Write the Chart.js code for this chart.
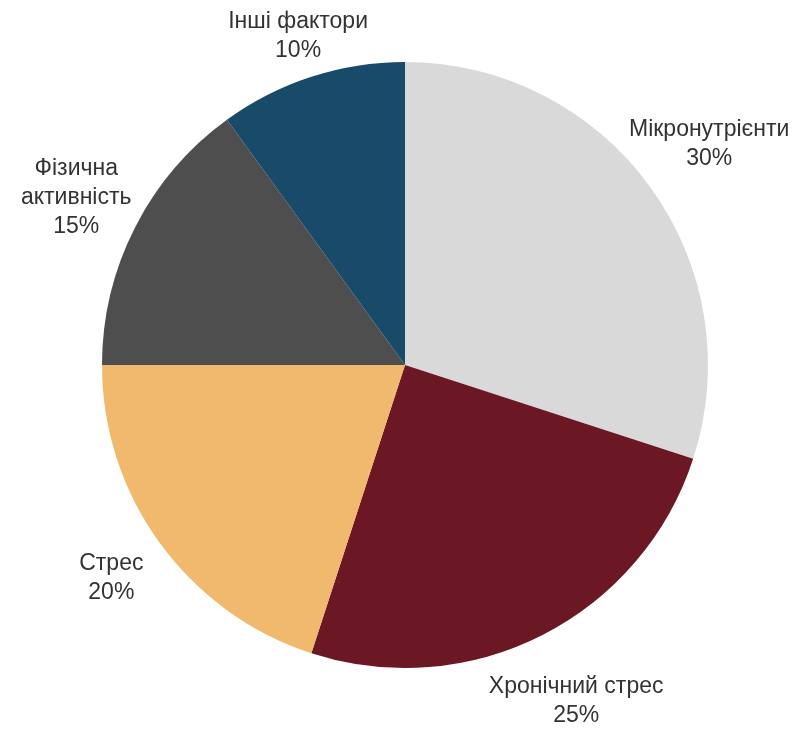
<!DOCTYPE html>
<html>
<head>
<meta charset="utf-8">
<script src="https://cdn.jsdelivr.net/npm/chart.js@4.4.1/dist/chart.umd.min.js"></script>
<style>
  html, body { margin: 0; padding: 0; background: #fff; }
  canvas { display: block; }
</style>
</head>
<body>
<canvas id="chartArea" width="800" height="729"></canvas>
<script>
// 요인별 비율 (%)
const labels = ['Мікронутрієнти', 'Хронічний стрес', 'Стрес', 'Фізична активність', 'Інші фактори'];
const values = [30, 25, 20, 15, 10];
const colors = ['#d9d9d9', '#6b1724', '#f0b96d', '#4e4e4e', '#184b6a'];
// 라벨 줄바꿈
const labelLines = [['Мікронутрієнти'], ['Хронічний стрес'], ['Стрес'], ['Фізична', 'активність'], ['Інші фактори']];

// 조각 바깥에 라벨 + 퍼센트 그리기
const outsideLabels = {
  id: 'outsideLabels',
  afterDatasetsDraw(chart) {
    const ctx = chart.ctx;
    const meta = chart.getDatasetMeta(0);
    const total = values.reduce((a, b) => a + b, 0);
    // 조각마다 바깥쪽 거리 (px)
    const gaps = [73, 74, 60, 66, 43];
    ctx.save();
    ctx.font = '23px "Liberation Sans", Arial, sans-serif';
    ctx.fillStyle = '#333333';
    ctx.textAlign = 'center';
    ctx.textBaseline = 'middle';
    const lineH = 29;
    meta.data.forEach((arc, i) => {
      const mid = (arc.startAngle + arc.endAngle) / 2;
      const r = arc.outerRadius + gaps[i];
      const cx = arc.x + Math.cos(mid) * r;
      const cy = arc.y + Math.sin(mid) * r;
      const lines = labelLines[i].concat([Math.round(values[i] / total * 100) + '%']);
      const top = cy - (lines.length - 1) * lineH / 2;
      lines.forEach((t, j) => ctx.fillText(t, cx, top + j * lineH));
    });
    ctx.restore();
  }
};

const myChart = new Chart(document.getElementById('chartArea'), {
  type: 'pie',
  data: {
    labels: labels,
    datasets: [{
      data: values,
      backgroundColor: colors,
      borderWidth: 0,
    }],
  },
  options: {
    responsive: false,
    animation: false,
    layout: {
      padding: { left: 102, right: 92, top: 62, bottom: 61 },
    },
    plugins: {
      legend: { display: false },
      tooltip: { enabled: false },
    },
  },
  plugins: [outsideLabels],
});
</script>
</body>
</html>
